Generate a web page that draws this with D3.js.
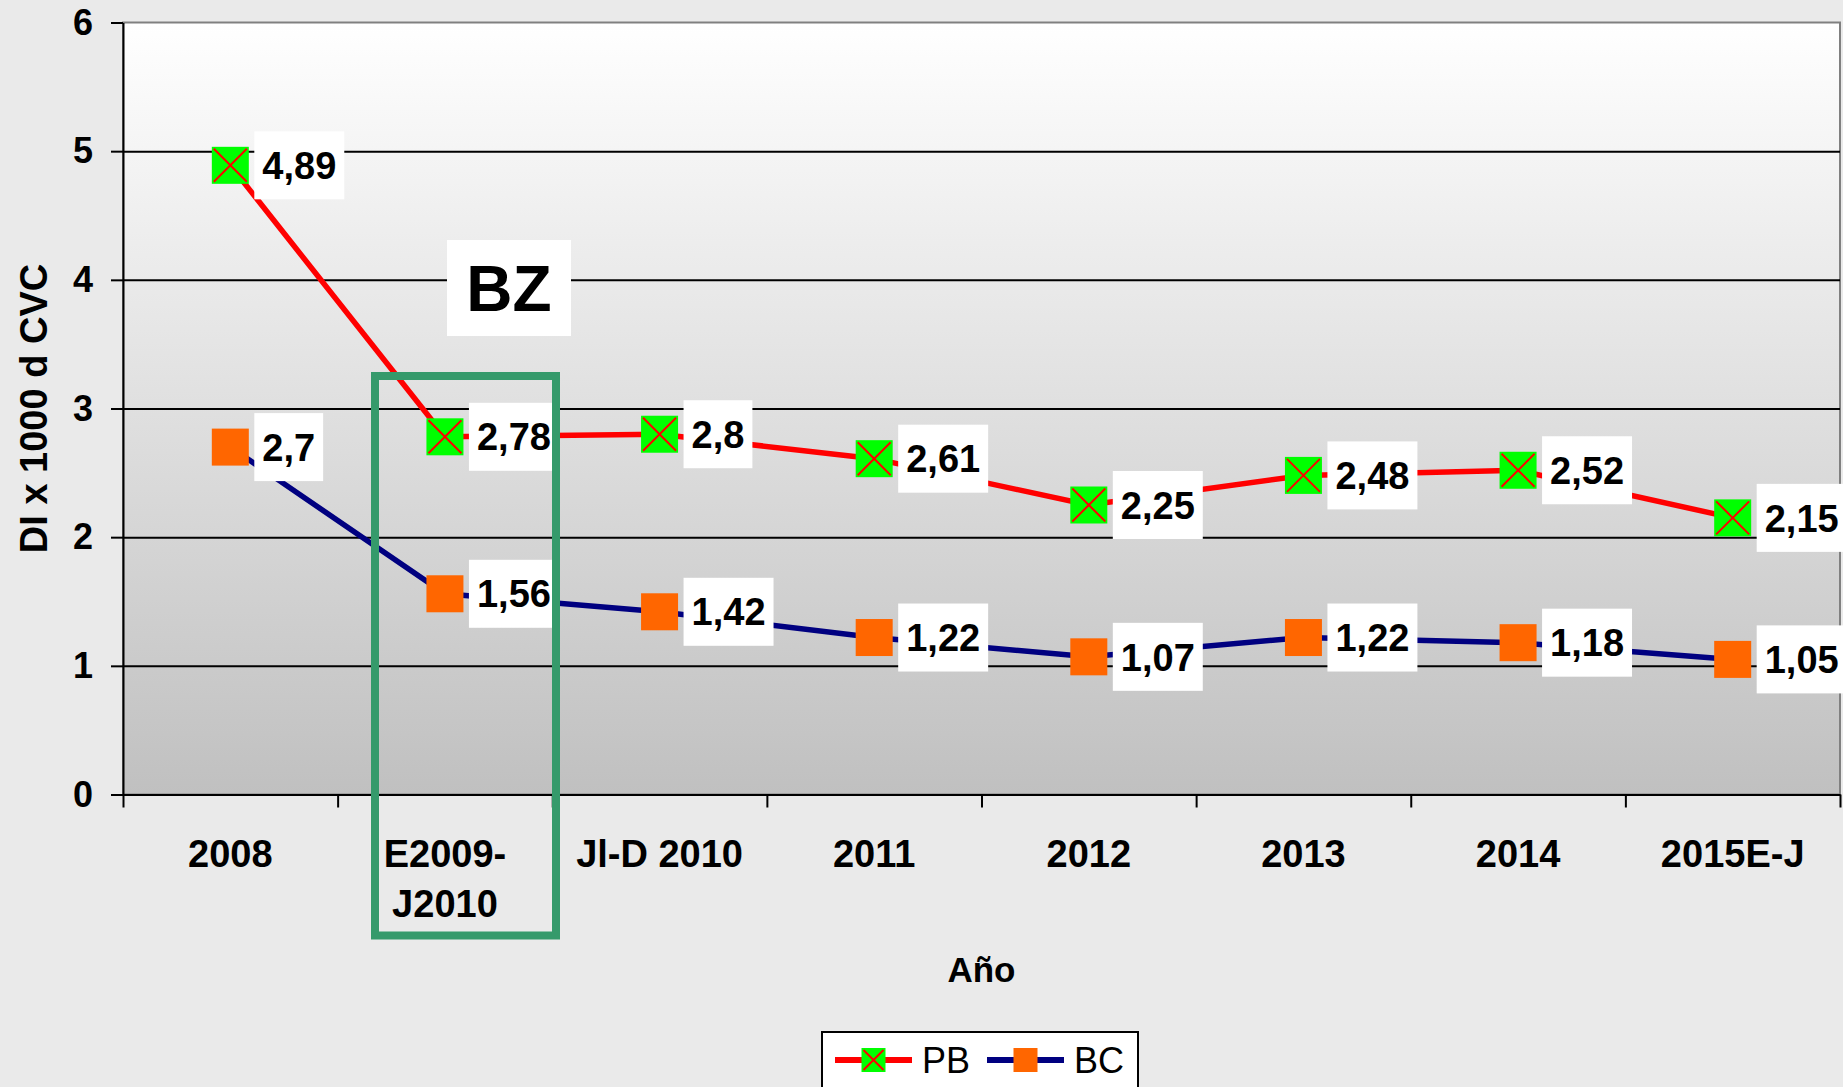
<html>
<head>
  <script src="https://d3js.org/d3.v7.min.js"></script>
  <style>
    body { margin: 0; background: #eaeaea; }
    svg text { font-family: "Liberation Sans", Arial, sans-serif; }
    .grid line { stroke: #000; stroke-width: 2; }
    .grid .domain { stroke: none; }
    .axis .domain, .axis line { stroke: #000; stroke-width: 2; }
  </style>
</head>
<body>
  <svg id="chart" width="1843" height="1087"></svg>
  <script>
    // data
    const categories = ["2008", "E2009-\nJ2010", "Jl-D 2010", "2011", "2012", "2013", "2014", "2015E-J"];
    const pbValues = [4.89, 2.78, 2.8, 2.61, 2.25, 2.48, 2.52, 2.15];
    const bcValues = [2.7, 1.56, 1.42, 1.22, 1.07, 1.22, 1.18, 1.05];
    const yTicks = [0, 1, 2, 3, 4, 5, 6];
    const seriesNames = ["PB", "BC"];

    const svg = d3.select("#chart");
    const plotLeft = 123, plotRight = 1840, plotTop = 22.5, plotBottom = 794.5;

    const x = d3.scaleBand().domain(categories).range([plotLeft, plotRight]);
    const xc = d => x(d) + x.bandwidth() / 2;
    const y = d3.scaleLinear().domain([0, 6]).range([plotBottom, plotTop]);
    const bounds = d3.scaleLinear().domain([0, categories.length]).range([plotLeft, plotRight]);

    const defs = svg.append("defs");
    const grad = defs.append("linearGradient").attr("id", "bg")
      .attr("x1", 0).attr("y1", 0).attr("x2", 0).attr("y2", 1);
    grad.append("stop").attr("offset", "0%").attr("stop-color", "#ffffff");
    grad.append("stop").attr("offset", "100%").attr("stop-color", "#c0c0c0");

    svg.append("rect")
      .attr("x", plotLeft).attr("y", plotTop)
      .attr("width", plotRight - plotLeft).attr("height", plotBottom - plotTop)
      .attr("fill", "url(#bg)")
      .attr("stroke", "#808080").attr("stroke-width", 2);

    // gridlines
    svg.append("g").attr("class", "grid")
      .attr("transform", "translate(" + plotLeft + ",0)")
      .call(d3.axisLeft(y).tickValues(yTicks.slice(1, -1)).tickSize(-(plotRight - plotLeft)).tickFormat(""));

    // y axis
    const yAxis = svg.append("g").attr("class", "axis")
      .attr("transform", "translate(" + plotLeft + ",0)")
      .call(d3.axisLeft(y).tickValues(yTicks).tickFormat(d3.format("d"))
        .tickSize(12).tickSizeOuter(0).tickPadding(18));
    yAxis.selectAll("text")
      .style("font-size", "36px").style("font-weight", "bold").attr("fill", "#000");

    // x axis: boundary ticks
    svg.append("g").attr("class", "axis")
      .attr("transform", "translate(0," + plotBottom + ")")
      .call(d3.axisBottom(bounds).tickValues(d3.range(0, categories.length + 1)).tickSize(13).tickSizeOuter(0).tickFormat(""));

    // x axis labels
    const xAxis = svg.append("g")
      .attr("transform", "translate(0," + plotBottom + ")")
      .call(d3.axisBottom(x).tickSize(0));
    xAxis.select(".domain").remove();
    xAxis.selectAll("text").each(function(d) {
      const t = d3.select(this).text("").attr("dy", null).attr("y", 72.5)
        .style("font-size", "38px").style("font-weight", "bold").attr("fill", "#000");
      d.split("\n").forEach((line, i) => {
        t.append("tspan").attr("x", 0).attr("dy", i === 0 ? 0 : 50).text(line);
      });
    });

    // axis titles
    svg.append("text")
      .attr("transform", "translate(47," + ((plotTop + plotBottom) / 2) + ") rotate(-90)")
      .attr("text-anchor", "middle")
      .style("font-size", "38px").style("font-weight", "bold")
      .text("DI x 1000 d CVC");
    svg.append("text")
      .attr("x", (plotLeft + plotRight) / 2).attr("y", 982)
      .attr("text-anchor", "middle")
      .style("font-size", "35px").style("font-weight", "bold")
      .text("Año");

    // lines
    const line = d3.line().x((d, i) => xc(categories[i])).y(d => y(d));
    svg.append("path").datum(bcValues).attr("d", line)
      .attr("fill", "none").attr("stroke", "#000080").attr("stroke-width", 5.5);
    svg.append("path").datum(pbValues).attr("d", line)
      .attr("fill", "none").attr("stroke", "#ff0000").attr("stroke-width", 5.5);

    const ms = 37;
    function pbMarker(g, s) {
      g.append("rect").attr("x", -s / 2).attr("y", -s / 2).attr("width", s).attr("height", s).attr("fill", "#00ff00");
      const k = s / 2 - 2;
      g.append("line").attr("x1", -k).attr("y1", -k).attr("x2", k).attr("y2", k).attr("stroke", "#ff0000").attr("stroke-width", 2);
      g.append("line").attr("x1", -k).attr("y1", k).attr("x2", k).attr("y2", -k).attr("stroke", "#ff0000").attr("stroke-width", 2);
    }
    function bcMarker(g, s) {
      g.append("rect").attr("x", -s / 2).attr("y", -s / 2).attr("width", s).attr("height", s).attr("fill", "#ff6600");
    }

    svg.append("g").selectAll("g").data(bcValues).join("g")
      .attr("transform", (d, i) => "translate(" + xc(categories[i]) + "," + y(d) + ")")
      .each(function() { bcMarker(d3.select(this), ms); });
    svg.append("g").selectAll("g").data(pbValues).join("g")
      .attr("transform", (d, i) => "translate(" + xc(categories[i]) + "," + y(d) + ")")
      .each(function() { pbMarker(d3.select(this), ms); });

    // data labels
    const fmt = v => String(v).replace(".", ",");
    [pbValues, bcValues].forEach(vals => {
      const lab = svg.append("g").selectAll("g").data(vals).join("g")
        .attr("transform", (d, i) => "translate(" + (xc(categories[i]) + 24) + "," + y(d) + ")");
      const box = lab.append("rect").attr("y", -34).attr("height", 68).attr("fill", "#fff");
      const txt = lab.append("text").attr("x", 8).attr("dy", "0.36em")
        .style("font-size", "38px").style("font-weight", "bold")
        .text(fmt);
      box.attr("width", function(d, i) { return txt.nodes()[i].getComputedTextLength() + 16; });
    });

    // highlight box
    svg.append("rect")
      .attr("x", 375).attr("y", 376).attr("width", 181).attr("height", 559.5)
      .attr("fill", "none").attr("stroke", "#359a6b").attr("stroke-width", 8);

    // BZ annotation
    svg.append("rect").attr("x", 447).attr("y", 240).attr("width", 124).attr("height", 96).attr("fill", "#fff");
    svg.append("text").attr("x", 509).attr("y", 288).attr("dy", "0.36em")
      .attr("text-anchor", "middle")
      .style("font-size", "64px").style("font-weight", "bold")
      .text("BZ");

    // legend
    const legend = svg.append("g");
    legend.append("rect").attr("x", 822).attr("y", 1032).attr("width", 316).attr("height", 80)
      .attr("fill", "#fff").attr("stroke", "#000").attr("stroke-width", 2);
    const legendItems = [
      {name: seriesNames[0], x0: 835, color: "#ff0000", marker: pbMarker},
      {name: seriesNames[1], x0: 987, color: "#000080", marker: bcMarker}
    ];
    legendItems.forEach(it => {
      legend.append("line").attr("x1", it.x0).attr("x2", it.x0 + 77).attr("y1", 1060).attr("y2", 1060)
        .attr("stroke", it.color).attr("stroke-width", 6);
      const g = legend.append("g").attr("transform", "translate(" + (it.x0 + 38.5) + ",1060)");
      it.marker(g, 24);
      legend.append("text").attr("x", it.x0 + 87).attr("y", 1073)
        .style("font-size", "36px").text(it.name);
    });
  </script>
</body>
</html>
